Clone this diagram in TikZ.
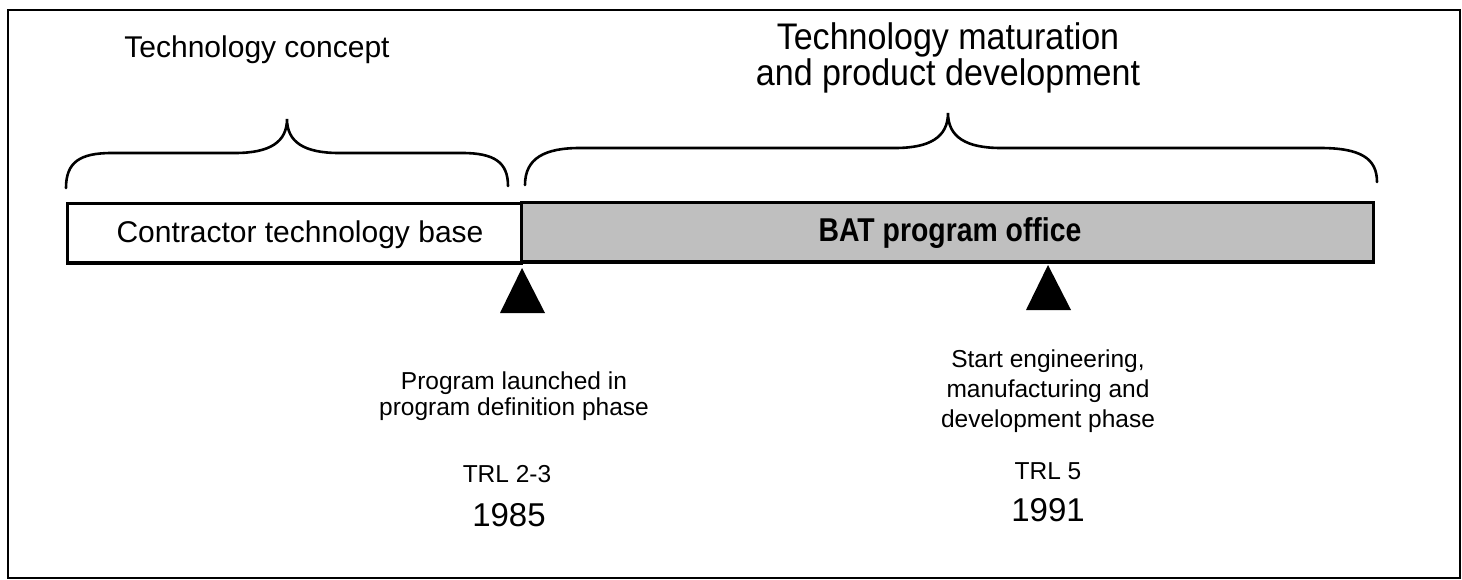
\documentclass[tikz,border=0pt]{standalone}
\usepackage{fontspec}
\setmainfont{Liberation Sans}
\begin{document}
\begin{tikzpicture}[x=1pt,y=-1pt,
  frame/.style={line width=2.4pt},
  bar/.style={draw=black,line width=3pt},
  brace/.style={line width=2.6pt,line cap=round},
  marker/.style={fill=black,draw=none},
  bigtxt/.style={font=\fontsize{30}{34}\selectfont,inner sep=0pt},
  midtxt/.style={font=\fontsize{24.5}{30}\selectfont,inner sep=0pt,align=center},
  yeartxt/.style={font=\fontsize{33}{38}\selectfont,inner sep=0pt}]
\useasboundingbox (0,0) rectangle (1462,580);
\draw[frame] (8,10) rectangle (1460,578);
% bars
\draw[bar,fill=white] (67,204) rectangle (521,263);
\draw[bar,fill=black!25] (521,203) rectangle (1373,262);
\node[bigtxt] (base) at (300,235) {Contractor technology base};
\node[inner sep=0pt,font=\fontsize{33}{38}\selectfont\bfseries] (bat) at (950,233) {\scalebox{0.86}[1]{BAT program office}};
% braces
\draw[brace] (66,188) .. controls (66,162) and (80,153) .. (112,153)
  -- (235,153) .. controls (270,153) and (287,142) .. (287,119)
  .. controls (287,142) and (304,153) .. (339,153)
  -- (462,153) .. controls (494,153) and (508,162) .. (508,186);
\draw[brace] (525,185) .. controls (525,158) and (545,148) .. (580,148)
  -- (895,148) .. controls (930,148) and (948,137) .. (948,113)
  .. controls (948,137) and (966,148) .. (1001,148)
  -- (1320,148) .. controls (1360,148) and (1377,158) .. (1377,182);
\node[bigtxt] (concept) at (257,50) {Technology concept};
\node[inner sep=0pt,font=\fontsize{37}{36}\selectfont] (mat1) at (948,40) {\scalebox{0.92}[1]{Technology maturation}};
\node[inner sep=0pt,font=\fontsize{37}{36}\selectfont] (mat2) at (948,76) {\scalebox{0.92}[1]{and product development}};
% markers
\fill[marker] (522,268) -- (545,313) -- (500,313) -- cycle;
\fill[marker] (1048,265) -- (1071,310) -- (1026,310) -- cycle;
\coordinate (m1) at (522,313);
\coordinate (m2) at (1048,310);
% labels
\node[midtxt] (l1a) at (514,383) {Program launched in};
\node[midtxt] (l1b) at (514,409) {program definition phase};
\node[midtxt] (trl1) at (507,474) {TRL 2-3};
\node[yeartxt] (y1) at (509,515) {1985};
\node[midtxt] (l2a) at (1048,361) {Start engineering,};
\node[midtxt] (l2b) at (1048,391) {manufacturing and};
\node[midtxt] (l2c) at (1048,421) {development phase};
\node[midtxt] (trl2) at (1048,471) {TRL 5};
\node[yeartxt] (y2) at (1048,510) {1991};
\end{tikzpicture}
\end{document}
